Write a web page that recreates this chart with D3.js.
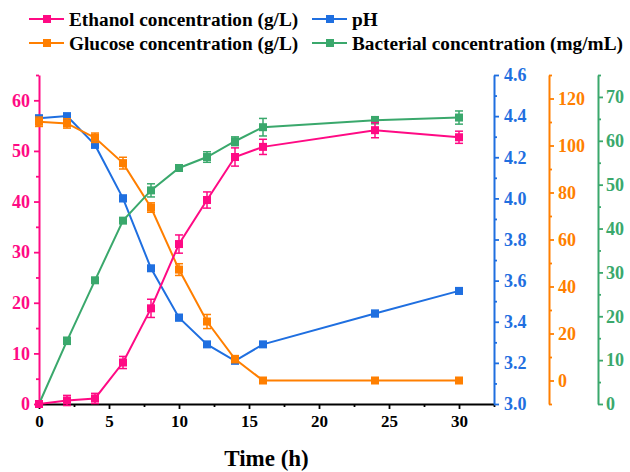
<!DOCTYPE html>
<html><head><meta charset="utf-8">
<script src="https://cdn.jsdelivr.net/npm/d3@7/dist/d3.min.js"></script>
<style>body{margin:0;background:#fff}svg{display:block}text{font-family:"Liberation Serif","Times New Roman",serif;font-weight:bold}</style>
</head><body><svg id="c" width="630" height="472"></svg>
<script>
const time = [0, 2, 4, 6, 8, 10, 12, 14, 16, 24, 30];
const ethanol = [0, 0.7, 1.1, 8.2, 18.9, 31.6, 40.3, 48.8, 50.8, 54.1, 52.7];
const ethanolErr = [0.3, 1.0, 1.0, 1.2, 1.8, 1.8, 1.6, 1.8, 1.5, 1.5, 1.2];
const pH = [4.39, 4.40, 4.26, 4.00, 3.66, 3.42, 3.29, 3.21, 3.29, 3.44, 3.55];
const pHErr = [0.005, 0.01, 0.01, 0.015, 0.005, 0.015, 0.005, 0.01, 0.005, 0.015, 0.015];
const glucose = [110.1, 109.4, 103.3, 92.5, 73.6, 47.2, 25.1, 9.1, 0, 0, 0];
const glucoseErr = [2, 2, 2, 2.5, 2, 2.5, 3, 1.5, 0.3, 0.3, 0.3];
const bacteria = [0, 14.4, 28.2, 41.8, 48.7, 53.8, 56.3, 59.9, 63.1, 64.7, 65.3];
const bacteriaErr = [0.2, 0.8, 0.5, 0.5, 1.5, 0.5, 1.2, 1.0, 2.0, 0.8, 1.5];
const xTicks = [0, 5, 10, 15, 20, 25, 30];
const legendLabels = ["Ethanol concentration (g/L)", "pH", "Glucose concentration (g/L)", "Bacterial concentration (mg/mL)"];

const C = {eth: "#ff0a84", ph: "#1f6fe0", glu: "#ff7f00", bac: "#3aa86c"};
const svg = d3.select("#c");
const pTop = 75, pBottom = 404, pLeft = 39, pRight = 494;

const x = d3.scaleLinear().domain([0, 32.5]).range([pLeft, pRight]);
const yE = d3.scaleLinear().domain([0, 65]).range([pBottom, pTop]);
const yP = d3.scaleLinear().domain([3.0, 4.6]).range([pBottom, pTop]);
const yG = d3.scaleLinear().domain([-10, 130]).range([pBottom, pTop]);
const yB = d3.scaleLinear().domain([0, 75]).range([pBottom, pTop]);

function styleAxis(g, color, fs) {
  g.select(".domain").attr("stroke", color).attr("stroke-width", 2);
  g.selectAll(".tick line").attr("stroke", color).attr("stroke-width", 1.8);
  g.selectAll("text").attr("fill", color).attr("font-size", fs).attr("font-family", "Liberation Serif").attr("font-weight", "bold");
}
function minor(axisFn, scale, vals, pos, color) {
  const a = axisFn(scale).tickValues(vals).tickSize(3).tickFormat("");
  const m = svg.append("g").attr("transform", pos).call(a);
  m.select(".domain").remove();
  m.selectAll(".tick line").attr("stroke", color).attr("stroke-width", 1.8);
}

minor(d3.axisBottom, x, [2.5, 7.5, 12.5, 17.5, 22.5, 27.5, 32.5], `translate(0,${pBottom})`, "#000");
minor(d3.axisLeft, yE, [5, 15, 25, 35, 45, 55, 65], `translate(${pLeft},0)`, C.eth);
minor(d3.axisRight, yP, [3.1, 3.3, 3.5, 3.7, 3.9, 4.1, 4.3, 4.5], `translate(${pRight},0)`, C.ph);
minor(d3.axisRight, yG, [-10, 10, 30, 50, 70, 90, 110, 130], `translate(549,0)`, C.glu);
minor(d3.axisRight, yB, [5, 15, 25, 35, 45, 55, 65, 75], `translate(598,0)`, C.bac);

const gx = svg.append("g").attr("transform", `translate(0,${pBottom})`)
  .call(d3.axisBottom(x).tickValues(xTicks).tickSize(5).tickPadding(6).tickSizeOuter(0));
styleAxis(gx, "#000", 17);

const gE = svg.append("g").attr("transform", `translate(${pLeft},0)`)
  .call(d3.axisLeft(yE).tickValues([0, 10, 20, 30, 40, 50, 60]).tickSize(5).tickPadding(4).tickSizeOuter(0));
styleAxis(gE, C.eth, 18);
const gP = svg.append("g").attr("transform", `translate(${pRight},0)`)
  .call(d3.axisRight(yP).tickValues([3.0, 3.2, 3.4, 3.6, 3.8, 4.0, 4.2, 4.4, 4.6]).tickFormat(d3.format(".1f")).tickSize(5).tickPadding(5).tickSizeOuter(0));
styleAxis(gP, C.ph, 18);
const gG = svg.append("g").attr("transform", `translate(549,0)`)
  .call(d3.axisRight(yG).tickValues([0, 20, 40, 60, 80, 100, 120]).tickSize(5).tickPadding(4).tickSizeOuter(0));
styleAxis(gG, C.glu, 18);
const gB = svg.append("g").attr("transform", `translate(598,0)`)
  .call(d3.axisRight(yB).tickValues([0, 10, 20, 30, 40, 50, 60, 70]).tickSize(5).tickPadding(3).tickSizeOuter(0));
styleAxis(gB, C.bac, 18);

svg.append("text").attr("x", (pLeft + pRight) / 2).attr("y", 466).attr("text-anchor", "middle")
  .attr("font-size", 23).text("Time (h)");

function series(vals, errs, y, color) {
  const g = svg.append("g");
  const line = d3.line().x((d, i) => x(time[i])).y(d => y(d));
  g.append("path").datum(vals).attr("d", line).attr("fill", "none").attr("stroke", color).attr("stroke-width", 2);
  vals.forEach((v, i) => {
    const cx = x(time[i]), y1 = y(v + errs[i]), y2 = y(v - errs[i]);
    g.append("line").attr("x1", cx).attr("x2", cx).attr("y1", y1).attr("y2", y2).attr("stroke", color).attr("stroke-width", 1.5);
    [y1, y2].forEach(yy => g.append("line").attr("x1", cx - 4).attr("x2", cx + 4).attr("y1", yy).attr("y2", yy).attr("stroke", color).attr("stroke-width", 1.5));
    g.append("rect").attr("x", cx - 4).attr("y", y(v) - 4).attr("width", 8).attr("height", 8).attr("fill", color);
  });
}
series(pH, pHErr, yP, C.ph);
series(glucose, glucoseErr, yG, C.glu);
series(bacteria, bacteriaErr, yB, C.bac);
series(ethanol, ethanolErr, yE, C.eth);

const legCols = [C.eth, C.ph, C.glu, C.bac];
const legPos = [[29, 19], [312, 19], [29, 43], [312, 43]];
legendLabels.forEach((t, i) => {
  const [lx, ly] = legPos[i];
  const g = svg.append("g").attr("transform", `translate(${lx},${ly})`);
  g.append("line").attr("x1", 0).attr("x2", 35).attr("y1", 0).attr("y2", 0).attr("stroke", legCols[i]).attr("stroke-width", 2);
  g.append("rect").attr("x", 14).attr("y", -4).attr("width", 8).attr("height", 8).attr("fill", legCols[i]);
  g.append("text").attr("x", 40).attr("y", 7).attr("font-size", 19.3).attr("fill", "#000").text(t);
});
</script></body></html>
